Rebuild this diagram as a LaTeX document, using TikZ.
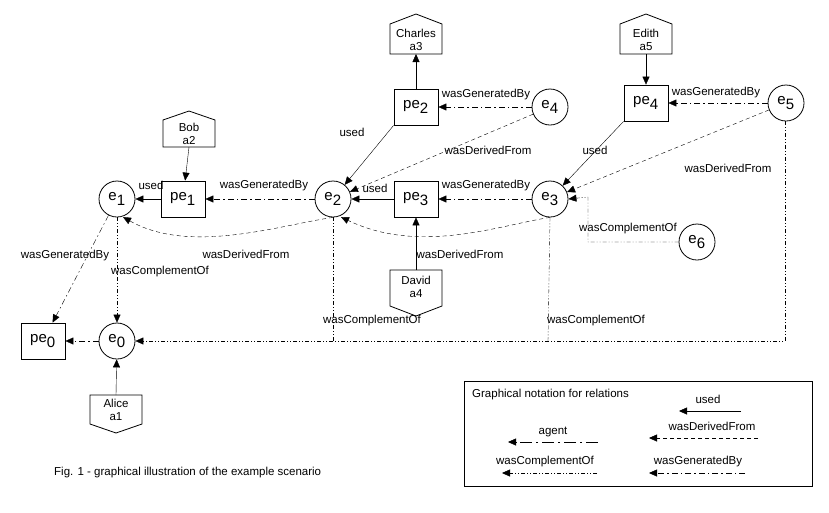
\documentclass[tikz,border=0pt]{standalone}
\usepackage{fontspec}
\setmainfont{Liberation Sans}
\usetikzlibrary{arrows.meta}
\newcommand{\sbs}[1]{\textsubscript{\fontsize{15}{15}\selectfont #1}}
\begin{document}
\begin{tikzpicture}[x=1pt,y=-1pt,
  ent/.style={circle,draw,thick,fill=white,minimum size=36pt,inner sep=0pt,font=\fontsize{15}{15}\selectfont},
  act/.style={rectangle,draw,thick,fill=white,minimum width=44pt,minimum height=36pt,inner sep=0pt,font=\fontsize{15}{15}\selectfont},
  agtxt/.style={align=center,inner sep=0pt,font=\fontsize{11.5}{12.5}\selectfont},
  lbl/.style={font=\fontsize{11.5}{11.5}\selectfont,inner sep=1pt},
  tip/.style={-{Triangle[length=8pt,width=7pt]}},
  used/.style={tip,thin},
  gen/.style={tip,thin,dash pattern=on 6pt off 3pt on 1.5pt off 3pt},
  der/.style={tip,thin,dash pattern=on 4pt off 3pt},
  compl/.style={thin,dash pattern=on 4pt off 2pt on 1pt off 2pt on 1pt off 2pt},
  comp/.style={tip,compl},
  agent/.style={tip,thin,dash pattern=on 12pt off 4pt on 2pt off 4pt}]
\useasboundingbox (0,0) rectangle (829,512);
% entities/activities
\node[ent] (e1) at (117,199) {e\sbs{1}};
\node[act] (pe1) at (183,199) {pe\sbs{1}};
\node[ent] (e2) at (333,199) {e\sbs{2}};
\node[act] (pe3) at (416,199) {pe\sbs{3}};
\node[ent] (e3) at (550,199) {e\sbs{3}};
\node[act] (pe2) at (416,107) {pe\sbs{2}};
\node[ent] (e4) at (550,107) {e\sbs{4}};
\node[act] (pe4) at (646,103) {pe\sbs{4}};
\node[ent] (e5) at (786,103) {e\sbs{5}};
\node[ent] (e6) at (697,242) {e\sbs{6}};
\node[ent] (e0) at (117,341) {e\sbs{0}};
\node[act] (pe0) at (43,341) {pe\sbs{0}};
% agents
\draw[thick,fill=white] (163,147) -- (163,120) -- (189,111) -- (215,120) -- (215,147) -- cycle;
\node[agtxt] (bob) at (189,134) {Bob\\a2};
\coordinate (bobb) at (189,147);
\draw[thick,fill=white] (390,54) -- (390,24) -- (416,14) -- (442,24) -- (442,54) -- cycle;
\node[agtxt] (charles) at (416,40) {Charles\\a3};
\coordinate (charb) at (416,54);
\draw[thick,fill=white] (620,54) -- (620,24) -- (646,14) -- (672,24) -- (672,54) -- cycle;
\node[agtxt] (edith) at (646,40) {Edith\\a5};
\coordinate (edb) at (646,54);
\draw[thick,fill=white] (390,270) -- (390,306) -- (416,316) -- (442,306) -- (442,270) -- cycle;
\node[agtxt] (david) at (416,287) {David\\a4};
\coordinate (davt) at (416,270);
\draw[thick,fill=white] (90,395) -- (90,424) -- (116,433) -- (142,424) -- (142,395) -- cycle;
\node[agtxt] (alice) at (116,410) {Alice\\a1};
\coordinate (alt) at (116,395);
% agent edges
\draw[used] (bobb) -- (pe1);
\draw[used] (pe2) -- (charb);
\draw[used] (edb) -- (pe4);
\draw[used] (davt) -- (pe3);
\draw[used] (alt) -- (e0);
% used
\draw[used] (pe1) -- (e1);
\node[lbl] at (151,185) {used};
\draw[used] (pe3) -- (e2);
\node[lbl] at (375,188) {used};
\draw[used] (pe2.south west) -- (e2);
\node[lbl] at (352,132) {used};
\draw[used] (pe4.south west) -- (e3);
\node[lbl] at (595,150) {used};
% generated
\draw[gen] (e2) -- (pe1);
\node[lbl] at (264,186) {wasGeneratedBy};
\draw[gen] (e3) -- (pe3);
\node[lbl] at (486,186) {wasGeneratedBy};
\draw[gen] (e4) -- (pe2);
\node[lbl] at (486,95) {wasGeneratedBy};
\draw[gen] (e5) -- (pe4);
\node[lbl] at (716,93) {wasGeneratedBy};
\draw[gen] (e1) -- (pe0);
\node[lbl] at (65,256) {wasGeneratedBy};
\draw[gen] (e0) -- (pe0);
% derived
\draw[der] (e4) -- (e2);
\node[lbl] at (488,150) {wasDerivedFrom};
\draw[der] (e5) -- (e3);
\node[lbl] at (728,168) {wasDerivedFrom};
\draw[der] (e2.south) .. controls (280,225) and (190,255) .. (123,217);
\node[lbl] at (246,254) {wasDerivedFrom};
\draw[der] (e3.south) .. controls (500,225) and (420,255) .. (341,217);
\node[lbl] at (460,254) {wasDerivedFrom};
% complement
\draw[comp] (e1) -- (e0);
\node[lbl] at (160,272) {wasComplementOf};
\coordinate (c6a) at (588,242);
\coordinate (c6b) at (588,197);
\draw[comp] (e6.west) -- (c6a) -- (c6b) -- (e3.east);
\node[lbl] at (628,229) {wasComplementOf};
\coordinate (c2) at (333,341);
\coordinate (c3) at (548,341);
\coordinate (c5a) at (785,121);
\coordinate (c5b) at (785,341);
\draw[compl] (e2.south) -- (c2);
\draw[compl] (e3.south) -- (c3);
\draw[comp] (c5a) -- (c5b) -- (e0);
\node[lbl] at (372,321) {wasComplementOf};
\node[lbl] at (596,321) {wasComplementOf};
% legend
\draw[thick] (464,381) rectangle (812,486);
\node[lbl,anchor=west] at (471,395) {Graphical notation for relations};
\coordinate (u1) at (741,411); \coordinate (u2) at (679,411);
\draw[used] (u1) -- (u2); \node[lbl] at (708,399) {used};
\coordinate (d1) at (758,438); \coordinate (d2) at (649,438);
\draw[der] (d1) -- (d2); \node[lbl] at (712,426) {wasDerivedFrom};
\coordinate (a1) at (598,442); \coordinate (a2) at (508,442);
\draw[agent] (a1) -- (a2); \node[lbl] at (553,432) {agent};
\coordinate (k1) at (597,473); \coordinate (k2) at (502,473);
\draw[comp] (k1) -- (k2); \node[lbl] at (545,462) {wasComplementOf};
\coordinate (g1) at (745,473); \coordinate (g2) at (649,473);
\draw[gen] (g1) -- (g2); \node[lbl] at (698,462) {wasGeneratedBy};
\node[lbl,anchor=west] (cap) at (53,473) {Fig. 1 - graphical illustration of the example scenario};
\end{tikzpicture}
\end{document}
